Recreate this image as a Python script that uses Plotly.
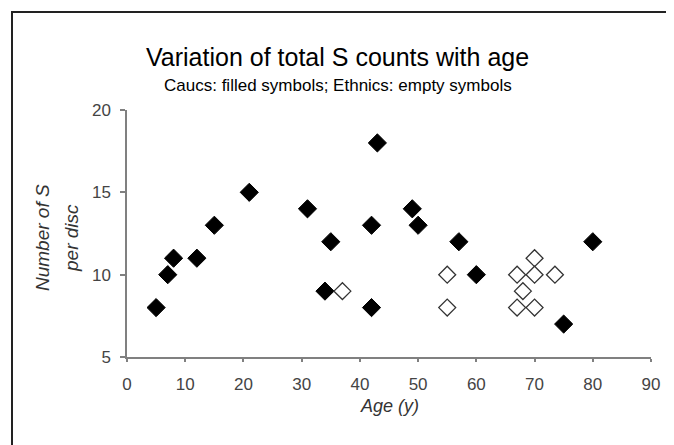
import plotly.graph_objects as go

# Caucasian (filled symbols)
cauc_age = [5, 7, 8, 12, 15, 21, 31, 35, 34, 42, 42, 43, 49, 50, 57, 60, 75, 80]
cauc_s = [8, 10, 11, 11, 13, 15, 14, 12, 9, 13, 8, 18, 14, 13, 12, 10, 7, 12]

# Ethnic (empty symbols)
eth_age = [37, 55, 55, 67, 70, 70, 68, 67, 70, 73.5]
eth_s = [9, 10, 8, 10, 11, 10, 9, 8, 8, 10]

x_ticks = [0, 10, 20, 30, 40, 50, 60, 70, 80, 90]
y_ticks = [5, 10, 15, 20]

# page body has an 8px margin: work in reference pixels, shift by OFF
OFF = 8
W, H = 674 - OFF, 445 - OFF
PL, PR, PT, PB = 127, 651, 110, 357   # plot box in reference pixels
L, R, T, B = PL - OFF, W - (PR - OFF), PT - OFF, H - (PB - OFF)


def px(x):
    return (x - PL) / (PR - PL)


def py(y):
    return (PB - y) / (PB - PT)


fig = go.Figure()
fig.add_trace(go.Scatter(
    x=cauc_age, y=cauc_s, mode="markers",
    marker=dict(symbol="diamond", size=14, color="black",
                line=dict(color="black", width=1)),
    showlegend=False, cliponaxis=False))
fig.add_trace(go.Scatter(
    x=eth_age, y=eth_s, mode="markers",
    marker=dict(symbol="diamond", size=13, color="white",
                line=dict(color="#333333", width=1.3)),
    showlegend=False, cliponaxis=False))

sans = "Liberation Sans, Arial, sans-serif"
tickfont = dict(family=sans, size=17, color="#444444")


def label(text, x, y, size, color="black", angle=0):
    return dict(text=text, xref="paper", yref="paper", x=px(x), y=py(y),
                xanchor="center", yanchor="middle", showarrow=False,
                textangle=angle, font=dict(family=sans, size=size, color=color))


fig.update_layout(
    width=W, height=H,
    margin=dict(l=L, r=R, t=T, b=B, pad=0),
    paper_bgcolor="white", plot_bgcolor="white",
    xaxis=dict(range=[0, 90], tickvals=x_ticks, showgrid=False, zeroline=False,
               showline=True, linecolor="#808080", linewidth=1.5,
               ticks="outside", ticklen=3, tickcolor="#808080", tickwidth=1.5,
               ticklabelstandoff=8, tickfont=tickfont),
    yaxis=dict(range=[5, 20], tickvals=y_ticks, showgrid=False, zeroline=False,
               showline=True, linecolor="#808080", linewidth=1.5,
               ticks="outside", ticklen=5, tickcolor="#808080", tickwidth=1.5,
               ticklabelstandoff=6, tickfont=tickfont),
    shapes=[dict(type="rect", xref="paper", yref="paper",
                 x0=px(12), x1=px(668), y0=py(452), y1=py(12),
                 line=dict(color="#222222", width=2))],
    annotations=[
        label("Variation of total S counts with age", 337, 57, 25),
        label("Caucs: filled symbols; Ethnics: empty symbols", 338, 85, 17),
        label("<i>Age (y)</i>", 389, 406, 18, "#333333"),
        label("<i>Number of S</i>", 42, 238, 19, "#333333", -90),
        label("<i>per disc</i>", 71, 238, 19, "#333333", -90),
    ],
)

fig.write_html("out.html")
